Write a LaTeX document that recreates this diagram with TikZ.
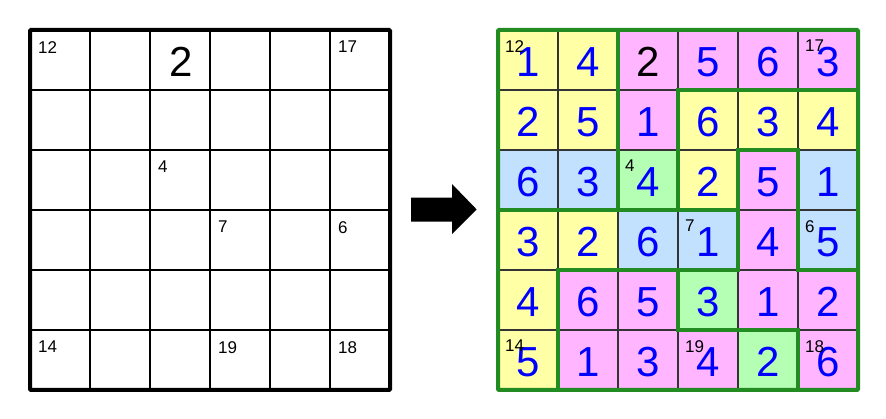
\documentclass[tikz,border=0pt]{standalone}
\usepackage{fontspec}
\setmainfont{Liberation Sans}
\definecolor{cy}{HTML}{FFFFA6}
\definecolor{cp}{HTML}{FFB5FF}
\definecolor{cb}{HTML}{C2E1FF}
\definecolor{cg}{HTML}{B5FFB5}
\definecolor{fg}{HTML}{228B22}
\definecolor{thingray}{HTML}{333333}
\begin{document}
\begin{tikzpicture}[x=1pt,y=-1pt,
  bigdigit/.style={font=\fontsize{42}{42}\selectfont, inner sep=0pt},
  smalllab/.style={font=\fontsize{17}{17}\selectfont, inner sep=0pt, anchor=north west, text=black},
  thinline/.style={line width=1.2pt},
  thickline/.style={line width=4pt, line cap=rect},
  arrowshape/.style={fill=black}]
\useasboundingbox (0,0) rectangle (886,419);
% ---------- left grid ----------
\begin{scope}[shift={(30,30)}, x=60pt, y=-60pt]
  \foreach \i in {1,...,5} {
    \draw[thinline,black] (\i,0) -- (\i,6);
    \draw[thinline,black] (0,\i) -- (6,\i);
  }
  \draw[line width=4pt,black,rounded corners=1pt] (0,0) rectangle (6,6);
  \node[bigdigit,text=black] (lbig) at (2.52,0.53) {2};
  \foreach \c/\r/\t in {0/0/12,5/0/17,2/2/4,3/3/7,5/3/6,0/5/14,3/5/19,5/5/18}
    \node[smalllab] (l\r\c) at ({\c+8/60},{\r+11/60}) {\t};
\end{scope}
% ---------- arrow ----------
\fill[arrowshape] (411,197.7) -- (452,197.7) -- (452,184) -- (476.7,209.5) -- (452,234) -- (452,221.7) -- (411,221.7) -- cycle;
% ---------- right grid ----------
\begin{scope}[shift={(498,30)}, x=60pt, y=-60pt]
  \foreach \row [count=\r from 0] in {{cy,cy,cp,cp,cp,cp},{cy,cy,cp,cy,cy,cy},{cb,cb,cg,cy,cp,cb},{cy,cy,cb,cb,cp,cb},{cy,cp,cp,cg,cp,cp},{cy,cp,cp,cp,cg,cp}}
    \foreach \col [count=\c from 0] in \row
      \fill[\col] (\c,\r) rectangle ++(1,1);
  \foreach \i in {1,...,5} {
    \draw[thinline,thingray] (\i,0) -- (\i,6);
    \draw[thinline,thingray] (0,\i) -- (6,\i);
  }
  \foreach \row [count=\r from 0] in {{1,4,2,5,6,3},{2,5,1,6,3,4},{6,3,4,2,5,1},{3,2,6,1,4,5},{4,6,5,3,1,2},{5,1,3,4,2,6}}
    \foreach \d [count=\c from 0] in \row {
      \def\tc{blue}
      \ifnum\r=0 \ifnum\c=2 \def\tc{black}\fi\fi
      \node[bigdigit,text=\tc] (s\r\c) at ({\c+0.5},{\r+32/60}) {\d};
    }
  \foreach \c/\r/\t in {0/0/12,5/0/17,2/2/4,3/3/7,5/3/6,0/5/14,3/5/19,5/5/18}
    \node[smalllab] (r\r\c) at ({\c+7/60},{\r+10/60}) {\t};
  \foreach \a/\b in {{(2,0)}/{(2,3)},{(3,1)}/{(6,1)},{(3,1)}/{(3,3)},{(0,3)}/{(4,3)},{(4,2)}/{(4,4)},{(4,2)}/{(5,2)},{(5,2)}/{(5,4)},{(5,4)}/{(6,4)},{(1,4)}/{(4,4)},{(1,4)}/{(1,6)},{(3,4)}/{(3,5)},{(3,5)}/{(5,5)},{(5,5)}/{(5,6)}}
    \draw[thickline,fg] \a -- \b;
  \draw[line width=4pt,fg,rounded corners=1pt] (0,0) rectangle (6,6);
\end{scope}
\end{tikzpicture}
\end{document}
